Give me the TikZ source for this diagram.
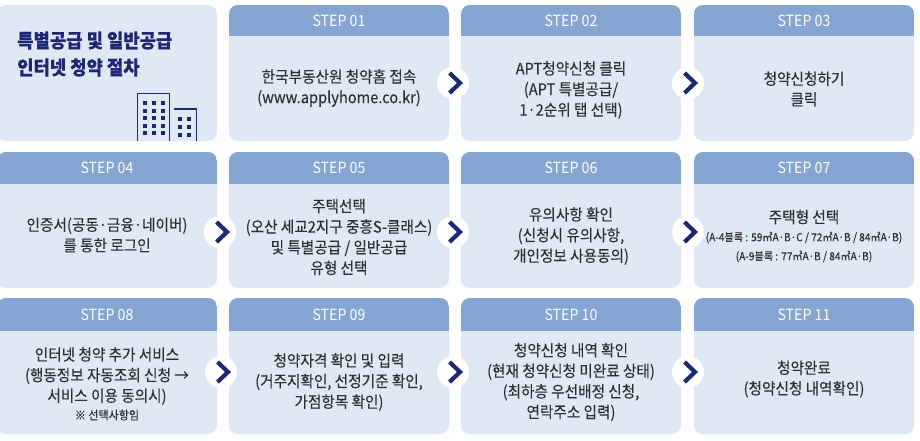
\documentclass[tikz,border=0pt]{standalone}
\usepackage{fontspec}
\setmainfont[FakeStretch=0.92,FakeBold=0.15]{Noto Sans CJK KR}
\newfontfamily\hdfont[FakeStretch=0.92]{Noto Sans CJK KR}
\usetikzlibrary{calc}
\definecolor{cardbg}{HTML}{DFE9F6}
\definecolor{headbg}{HTML}{85A5D2}
\definecolor{navy}{HTML}{1D2776}
\definecolor{bodytx}{HTML}{2F2F33}
\tikzset{
  x=1pt,y=-1pt,
  bodytext/.style={text=bodytx,align=center,font=\fontsize{15.9}{20.6}\selectfont,inner sep=0pt},
  smalltext/.style={text=bodytx,align=center,font=\fontsize{11}{19}\selectfont,inner sep=0pt},
  notetext/.style={text=bodytx,align=center,font=\fontsize{12}{14}\selectfont,inner sep=0pt},
  headtext/.style={text=white,font=\hdfont\fontsize{15.4}{16}\selectfont,inner sep=0pt},
  titletext/.style={text=navy,align=left,anchor=west,font=\fontsize{19.3}{27}\selectfont\bfseries,inner sep=0pt},
  linkdot/.style={circle,fill=white,draw=none,minimum size=32pt,inner sep=0pt},
  chevron/.style={draw=navy,line width=4.2pt,line join=miter},
  bldg/.style={draw=navy,line width=1.2pt},
  win/.style={fill=navy,draw=none}
}
\newcommand{\stepcard}[5]{% name, x, y(top), label, header bottom
  \fill[cardbg,rounded corners=9pt] (#2,#3) rectangle ++(220,136);
  \begin{scope}
    \clip[rounded corners=9pt] (#2,#3) rectangle ++(220,136);
    \fill[headbg] (#2,#3) rectangle ++(220,#5);
  \end{scope}
  \node[headtext] (#1h) at ($(#2,#3)+(110,#5/2)$) {#4};
}
\newcommand{\linkmark}[3]{% name, x, y
  \node[linkdot] (#1) at (#2,#3) {};
  \draw[chevron] ($(#1.center)+(-3.5,-10)$) -- ($(#1.center)+(7,0)$) -- ($(#1.center)+(-3.5,10)$);
}
\begin{document}
\begin{tikzpicture}
\useasboundingbox (0,0) rectangle (920,440);
\fill[white] (0,0) rectangle (920,440);
% intro card
\fill[cardbg,rounded corners=9pt] (-3,5) rectangle (217,141);
\node[titletext] (title) at (17,54) {특별공급 및 일반공급\\인터넷 청약 절차};
% building icon
\draw[bldg] (137.5,141) -- (137.5,93.5) -- (169.5,93.5) -- (169.5,141);
\draw[bldg] (174,109) -- (196.5,109) -- (196.5,141);
\foreach \cx in {143,152,161} \foreach \cy in {101,108.5,116,123.5,131}
  \fill[win] (\cx,\cy) rectangle ++(4,4);
\foreach \cx in {178,187} \foreach \cy in {117,125,133}
  \fill[win] (\cx,\cy) rectangle ++(4,4);
% cards
\stepcard{s1}{229}{5}{STEP 01}{31}
\stepcard{s2}{461}{5}{STEP 02}{31}
\stepcard{s3}{694}{5}{STEP 03}{31}
\stepcard{s4}{-3}{152}{STEP 04}{32}
\stepcard{s5}{229}{152}{STEP 05}{32}
\stepcard{s6}{461}{152}{STEP 06}{32}
\stepcard{s7}{694}{152}{STEP 07}{32}
\stepcard{s8}{-3}{298}{STEP 08}{33}
\stepcard{s9}{229}{298}{STEP 09}{33}
\stepcard{s10}{461}{298}{STEP 10}{33}
\stepcard{s11}{694}{298}{STEP 11}{33}
% texts
\node[bodytext] (t1) at (339,88) {한국부동산원 청약홈 접속\\(www.applyhome.co.kr)};
\node[bodytext] (t2) at (571,90) {APT청약신청 클릭\\(APT 특별공급/\\1·2순위 탭 선택)};
\node[bodytext] (t3) at (804,89) {청약신청하기\\클릭};
\node[bodytext] (t4) at (107,235) {인증서(공동·금융·네이버)\\를 통한 로그인};
\node[bodytext] (t5) at (339,237) {주택선택\\(오산 세교2지구 중흥S-클래스)\\및 특별공급 / 일반공급\\유형 선택};
\node[bodytext] (t6) at (571,236) {유의사항 확인\\(신청시 유의사항,\\개인정보 사용동의)};
\node[bodytext] (t7) at (804,217) {주택형 선택};
\node[smalltext] (t7b) at (804,247) {(A-4블록 : 59㎡A·B·C / 72㎡A·B / 84㎡A·B)\\(A-9블록 : 77㎡A·B / 84㎡A·B)};
\node[bodytext] (t8) at (107,376) {인터넷 청약 추가 서비스\\(행동정보 자동조회 신청 →\\서비스 이용 동의시)};
\node[notetext] (t8b) at (107,415) {※ 선택사항임};
\node[bodytext] (t9) at (339,382) {청약자격 확인 및 입력\\(거주지확인, 선정기준 확인,\\가점항목 확인)};
\node[bodytext] (t10) at (571,382) {청약신청 내역 확인\\(현재 청약신청 미완료 상태)\\(최하층 우선배정 신청,\\연락주소 입력)};
\node[bodytext] (t11) at (804,379) {청약완료\\(청약신청 내역확인)};
% links
\linkmark{a1}{453}{83}
\linkmark{a2}{688}{83}
\linkmark{a3}{220}{232}
\linkmark{a4}{453}{232}
\linkmark{a5}{688}{232}
\linkmark{a6}{221}{372}
\linkmark{a7}{453}{372}
\linkmark{a8}{688}{372}
\end{tikzpicture}
\end{document}
